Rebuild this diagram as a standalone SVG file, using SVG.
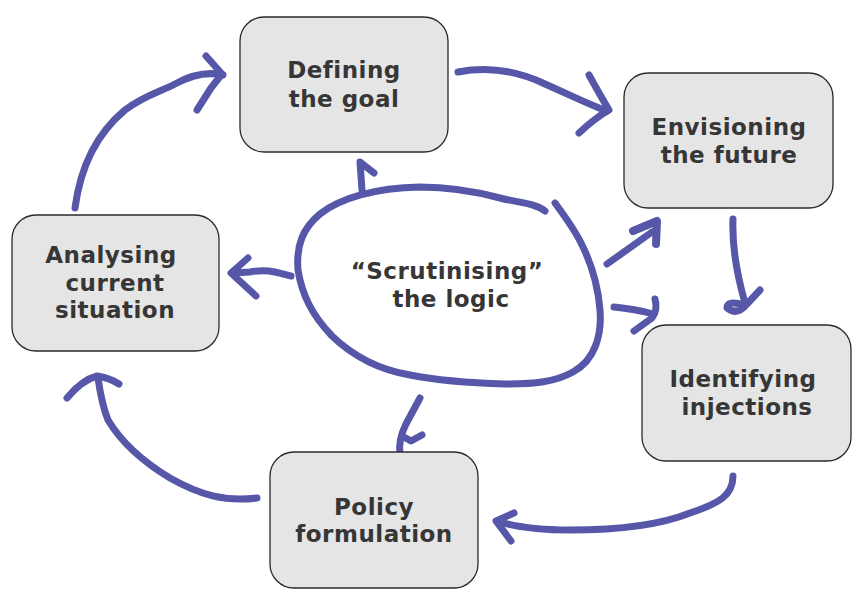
<svg xmlns="http://www.w3.org/2000/svg" width="860" height="609" viewBox="0 0 860 609">
<style>
.box{fill:#e5e5e5;stroke:#2a2a2a;stroke-width:1.3}
.lbl{font-family:"DejaVu Sans",sans-serif;font-weight:bold;font-size:23px;letter-spacing:0.5px;fill:#363636;text-anchor:middle}
.ink{fill:none;stroke:#5757a9;stroke-width:7;stroke-linecap:round;stroke-linejoin:round}
</style>
<rect width="860" height="609" fill="#ffffff"/>
<g id="connectors">
<!-- Analysing -> Defining -->
<path class="ink" d="M75,208 C80,170 95,135 125,110 C145,95 160,92 175,84 C195,73 210,72 223,75"/>
<path class="ink" d="M206,56 L222,74 L211,88 L197,110"/>
<!-- Defining -> Envisioning -->
<path class="ink" d="M458,72 C490,66 520,72 545,84 C570,95 590,105 607,111"/>
<path class="ink" d="M589,75 Q600,95 609,110 Q595,118 579,133"/>
<!-- Envisioning -> Identifying -->
<path class="ink" d="M733,219 C732,245 737,275 745,303"/>
<path class="ink" d="M760,290 L747,304 Q737,316 727,308 Q727,300 744,305"/>
<!-- Identifying -> Policy -->
<path class="ink" d="M733,476 C733,495 720,503 690,513 C660,525 620,530 570,530 C540,530 515,527 497,521"/>
<path class="ink" d="M514,513 L496,521 L511,541"/>
<!-- Policy -> Analysing -->
<path class="ink" d="M257,498 C225,502 200,495 170,478 C140,460 120,440 108,420 C102,405 100,392 98,378"/>
<path class="ink" d="M67,398 Q82,380 97,376 Q110,378 119,384"/>
<!-- center -> Defining -->
<path class="ink" d="M362,190 L360,162 L374,173"/>
<!-- center -> Analysing -->
<path class="ink" d="M291,276 C280,274 270,268 250,272 L233,273"/>
<path class="ink" d="M248,258 L231,273 L256,296"/>
<!-- center -> Envisioning -->
<path class="ink" d="M607,264 L652,232"/>
<path class="ink" d="M633,231 L657,221 L656,244" style="stroke-width:8"/>
<!-- center -> Identifying -->
<path class="ink" d="M614,307 Q635,309 653,314"/>
<path class="ink" d="M655,299 Q658,310 652,318 L634,331"/>
<!-- center -> Policy -->
<path class="ink" d="M420,398 L406,424 Q398,440 400,454"/>
<path class="ink" d="M422,435 L411,441 L402,436"/>
</g>
<g id="scrutinising">
<path class="ink" d="M555,203 C566,218 575,230 582,245 C592,265 598,285 600,310 C602,335 595,360 573,372 C555,382 535,384 505,384 C470,383 440,381 410,375 C380,370 355,358 332,336 C312,315 302,295 298,270 C296,245 303,228 320,214 C340,198 375,188 420,187 C445,187 470,190 500,198 C520,203 535,203 545,211"/>
<text class="lbl" x="447" y="279">“Scrutinising”</text>
<text class="lbl" x="451" y="307">the logic</text>
</g>
<g id="defining">
<rect class="box" x="240" y="17" width="208" height="135" rx="24"/>
<text class="lbl" x="344" y="78">Defining</text>
<text class="lbl" x="344" y="107">the goal</text>
</g>
<g id="envisioning">
<rect class="box" x="624" y="73" width="209" height="135" rx="24"/>
<text class="lbl" x="729" y="135">Envisioning</text>
<text class="lbl" x="729" y="163">the future</text>
</g>
<g id="identifying">
<rect class="box" x="642" y="325" width="209" height="136" rx="24"/>
<text class="lbl" x="743" y="387">Identifying</text>
<text class="lbl" x="747" y="415">injections</text>
</g>
<g id="policy">
<rect class="box" x="270" y="452" width="208" height="136" rx="24"/>
<text class="lbl" x="374" y="515">Policy</text>
<text class="lbl" x="374" y="542">formulation</text>
</g>
<g id="analysing">
<rect class="box" x="12" y="215" width="207" height="136" rx="24"/>
<text class="lbl" x="111" y="263">Analysing</text>
<text class="lbl" x="115" y="291">current</text>
<text class="lbl" x="115" y="318">situation</text>
</g>
</svg>
